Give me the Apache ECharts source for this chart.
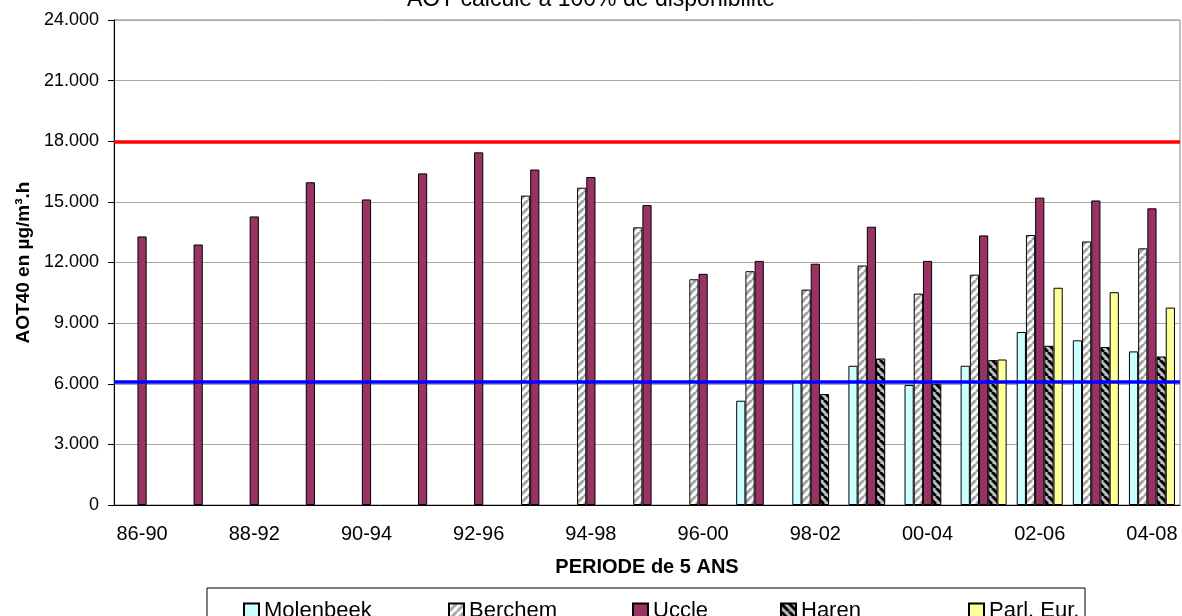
<!DOCTYPE html>
<html>
<head>
<meta charset="utf-8">
<script src="https://cdn.jsdelivr.net/npm/echarts@6/dist/echarts.min.js"></script>
<style>html,body{margin:0;padding:0;background:#fff}#c{width:1182px;height:616px}</style>
</head>
<body>
<div id="c"></div>
<script>
const categories = ['86-90','87-91','88-92','89-93','90-94','91-95','92-96','93-97','94-98','95-99','96-00','97-01','98-02','99-03','00-04','01-05','02-06','03-07','04-08'];
const molenbeek = [null,null,null,null,null,null,null,null,null,null,null,5160,6100,6890,5940,6890,8560,8150,7600];
const berchem   = [null,null,null,null,null,null,null,15310,15700,13740,11170,11570,10660,11850,10460,11400,13360,13040,12700];
const uccle     = [13290,12890,14280,15970,15120,16410,17450,16600,16230,14840,11440,12080,11940,13770,12080,13340,15210,15070,14680];
const haren     = [null,null,null,null,null,null,null,null,null,null,null,null,5490,7250,6000,7170,7880,7820,7350];
const parlEur   = [null,null,null,null,null,null,null,null,null,null,null,null,null,null,null,7200,10750,10530,9770];
const seriesNames = ['Molenbeek','Berchem','Uccle','Haren','Parl. Eur.'];
const yTicks = [0,3000,6000,9000,12000,15000,18000,21000,24000];
const targetValue = 18000;
const longTermObjective = 6100;

const FONT = "'Liberation Sans', Arial, sans-serif";

function stripes(bg, fg, dir, size, lw) {
  const c = document.createElement('canvas');
  c.width = size; c.height = size;
  const g = c.getContext('2d');
  g.fillStyle = bg; g.fillRect(0,0,size,size);
  g.strokeStyle = fg; g.lineWidth = lw;
  for (let k = -1; k <= 1; k++) {
    g.beginPath();
    if (dir === '/') { g.moveTo(k*size, size); g.lineTo(k*size+size, 0); }
    else { g.moveTo(k*size, 0); g.lineTo(k*size+size, size); }
    g.stroke();
  }
  return c;
}
const berchemPat = {image: stripes('#ffffff', '#a6a6a6', '/', 8, 3), repeat: 'repeat'};
const harenPat = {image: stripes('#c0c0c0', '#000000', '\\', 8, 3), repeat: 'repeat'};

const colors = ['#ccffff', berchemPat, '#993366', harenPat, '#ffff99'];
const datas = [molenbeek, berchem, uccle, haren, parlEur];

const series = seriesNames.map((n,i) => ({
  name: n, type: 'bar', data: datas[i],
  barGap: '0%', barCategoryGap: '18%',
  itemStyle: {color: colors[i], borderColor: '#000', borderWidth: 1},
  emphasis: {disabled: true},
  animation: false
}));
series[2].markLine = {
  silent: true, symbol: 'none', label: {show: false}, animation: false,
  data: [
    {yAxis: targetValue, lineStyle: {color: '#ff0000', width: 3.5, type: 'solid'}},
    {yAxis: longTermObjective, lineStyle: {color: '#0000ff', width: 3.5, type: 'solid'}}
  ]
};

const legendLeft = [243, 448, 632, 780, 968];
const legends = seriesNames.map((n,i) => ({
  data: [{name: n, icon: 'rect'}], left: legendLeft[i], top: 600, padding: 0,
  itemWidth: 15, itemHeight: 15, itemGap: 6,
  textStyle: {fontFamily: FONT, fontSize: 22, color: '#000'},
  selectedMode: false
}));

const chart = echarts.init(document.getElementById('c'), null, {renderer: 'canvas'});
chart.setOption({
  animation: false,
  backgroundColor: '#fff',
  grid: {left: 114, right: 2, top: 20, bottom: 111, show: true, borderColor: '#808080', borderWidth: 1},
  legend: legends,
  graphic: [
    {type: 'text', left: 'center', style: {text: 'AOT calculé à 100% de disponibilité', x: 0, y: 0, font: "23px 'Liberation Sans', Arial", fill: '#000'}, top: -12},
    {type: 'rect', shape: {x: 207, y: 588, width: 878, height: 40}, style: {fill: 'none', stroke: '#000', lineWidth: 1}, z: 10}
  ],
  xAxis: {
    type: 'category', data: categories,
    axisLine: {lineStyle: {color: '#000', width: 1}},
    axisTick: {interval: 0, length: 6, lineStyle: {color: '#000'}},
    axisLabel: {interval: 1, fontFamily: FONT, fontSize: 20, color: '#000', margin: 19},
    name: 'PERIODE de 5 ANS', nameLocation: 'middle', nameGap: 52,
    nameTextStyle: {fontFamily: FONT, fontSize: 20, fontWeight: 'bold', color: '#000'}
  },
  yAxis: {
    type: 'value', min: 0, max: 24000, interval: 3000,
    axisLine: {show: true, lineStyle: {color: '#000', width: 1}},
    axisTick: {show: true, length: 6, lineStyle: {color: '#000'}},
    splitLine: {lineStyle: {color: '#a8a8a8', width: 1}},
    axisLabel: {fontFamily: FONT, fontSize: 18, color: '#000', margin: 15,
      formatter: v => v === 0 ? '0' : Math.floor(v/1000) + '.' + String(v%1000).padStart(3,'0')},
    name: 'AOT40 en µg/m³.h', nameLocation: 'middle', nameGap: 80, nameRotate: 90,
    nameTextStyle: {fontFamily: FONT, fontSize: 19, fontWeight: 'bold', color: '#000'}
  },
  series: series
});
</script>
</body>
</html>
